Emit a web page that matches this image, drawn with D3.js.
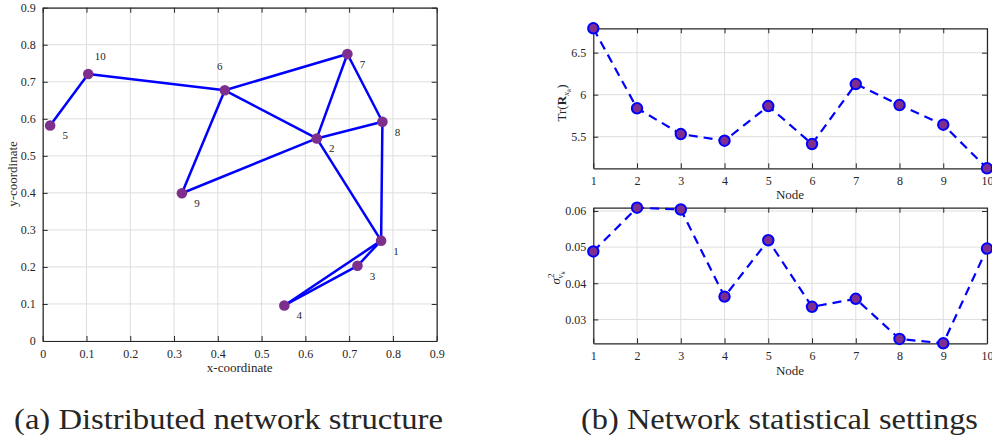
<!DOCTYPE html>
<html><head><meta charset="utf-8">
<script src="https://cdn.jsdelivr.net/npm/d3@7"></script>
<style>
body{margin:0;background:#fff;}
text{font-family:"Liberation Serif","DejaVu Serif",serif;fill:#262626;}
</style></head><body>
<svg id="c" width="992" height="439"></svg>
<script>
// ---- Data ----
const nodeIds = [1,2,3,4,5,6,7,8,9,10];
const nodeX = [0.773,0.626,0.719,0.552,0.017,0.416,0.696,0.776,0.318,0.104];
const nodeY = [0.271,0.547,0.203,0.096,0.582,0.677,0.775,0.592,0.399,0.721];
const edges = [[5,10],[10,6],[6,7],[6,9],[6,2],[7,2],[7,8],[2,8],[2,9],[2,1],[8,1],[1,3],[1,4],[3,4]];
const coordTicks = [0,0.1,0.2,0.3,0.4,0.5,0.6,0.7,0.8,0.9];
const traceVals = [6.79,5.838,5.532,5.452,5.865,5.413,6.127,5.877,5.643,5.124];
const traceTicks = [5.5,6,6.5];
const sigmaVals = [0.0488,0.0609,0.0604,0.0363,0.0519,0.0335,0.0357,0.0246,0.0234,0.0496];
const sigmaTicks = [0.03,0.04,0.05,0.06];
const captions = ["(a) Distributed network structure","(b) Network statistical settings"];

const svg = d3.select("#c");
const purple = "#7E2F8E", blue = "#0000FF", axisC = "#262626", gridC = "#dedede";

function frame(g, x, y, xt, yt, xfmt, yfmt, opts){
  const [x0,x1] = x.range(), [y0,y1] = y.range();
  g.append("g").selectAll("line").data(xt).join("line")
    .attr("x1",d=>x(d)).attr("x2",d=>x(d)).attr("y1",y0).attr("y2",y1)
    .attr("stroke",gridC).attr("stroke-width",1);
  g.append("g").selectAll("line").data(yt).join("line")
    .attr("y1",d=>y(d)).attr("y2",d=>y(d)).attr("x1",x0).attr("x2",x1)
    .attr("stroke",gridC).attr("stroke-width",1);
  const ax = g.append("g").attr("transform",`translate(0,${y0})`)
    .call(d3.axisBottom(x).tickValues(xt).tickFormat(xfmt).tickSizeInner(-5).tickSizeOuter(0).tickPadding(8));
  const axt = g.append("g").attr("transform",`translate(0,${y1})`)
    .call(d3.axisTop(x).tickValues(xt).tickFormat("").tickSizeInner(-5).tickSizeOuter(0));
  const ay = g.append("g").attr("transform",`translate(${x0},0)`)
    .call(d3.axisLeft(y).tickValues(yt).tickFormat(yfmt).tickSizeInner(-5).tickSizeOuter(0).tickPadding(7));
  const ayr = g.append("g").attr("transform",`translate(${x1},0)`)
    .call(d3.axisRight(y).tickValues(yt).tickFormat("").tickSizeInner(-5).tickSizeOuter(0));
  [ax,axt,ay,ayr].forEach(a=>{
    a.select(".domain").attr("stroke",axisC).attr("stroke-width",1.2);
    a.selectAll(".tick line").attr("stroke",axisC).attr("stroke-width",1);
    a.selectAll("text").attr("font-family","Liberation Serif, serif").attr("font-size",opts.fs).attr("fill",axisC);
  });
  return g;
}

// ---- Panel (a) ----
const xa = d3.scaleLinear().domain([0,0.9]).range([42.7,436.7]);
const ya = d3.scaleLinear().domain([0,0.9]).range([341,7.7]);
const ga = svg.append("g");
const fmt1 = d=> d===0?"0":d3.format(".1f")(d);
frame(ga, xa, ya, coordTicks, coordTicks, fmt1, fmt1, {fs:12});
const nodes = nodeIds.map((id,i)=>({id, x:nodeX[i], y:nodeY[i]}));
const byId = new Map(nodes.map(n=>[n.id,n]));
ga.append("g").selectAll("line").data(edges).join("line")
  .attr("x1",d=>xa(byId.get(d[0]).x)).attr("y1",d=>ya(byId.get(d[0]).y))
  .attr("x2",d=>xa(byId.get(d[1]).x)).attr("y2",d=>ya(byId.get(d[1]).y))
  .attr("stroke",blue).attr("stroke-width",2.5);
ga.append("g").selectAll("circle").data(nodes).join("circle")
  .attr("cx",d=>xa(d.x)).attr("cy",d=>ya(d.y)).attr("r",5.3).attr("fill",purple);
const labOff = {6:[-5,-20],10:[12,-14]};
ga.append("g").selectAll("text").data(nodes).join("text")
  .attr("x",d=>xa(d.x)+(labOff[d.id]?labOff[d.id][0]:15))
  .attr("y",d=>ya(d.y)+(labOff[d.id]?labOff[d.id][1]:14))
  .attr("font-size",11).attr("text-anchor","middle").text(d=>d.id);
ga.append("text").attr("x",239.7).attr("y",372).attr("text-anchor","middle").attr("font-size",13).text("x-coordinate");
ga.append("text").attr("transform","translate(17,174) rotate(-90)").attr("text-anchor","middle").attr("font-size",13).text("y-coordinate");

// ---- Panel (b) ----
const xb = d3.scaleLinear().domain([1,10]).range([593.3,987]);
function linePanel(vals, yr, ticks, yfmt){
  const y = d3.scaleLinear().domain(d3.extent(vals)).range(yr);
  const g = svg.append("g");
  frame(g, xb, y, nodeIds, ticks, d=>d, yfmt, {fs:12});
  g.append("path").datum(vals)
    .attr("d", d3.line().x((d,i)=>xb(nodeIds[i])).y(d=>y(d)))
    .attr("fill","none").attr("stroke",blue).attr("stroke-width",2.2).attr("stroke-dasharray","9,6");
  g.append("g").selectAll("circle").data(vals).join("circle")
    .attr("cx",(d,i)=>xb(nodeIds[i])).attr("cy",d=>y(d)).attr("r",5.2)
    .attr("fill",purple).attr("stroke",blue).attr("stroke-width",2);
  return g;
}
linePanel(traceVals,[168.3,28.3],traceTicks,d=>d3.format("")(d));
linePanel(sigmaVals,[343.3,207.7],sigmaTicks,d=>d3.format(".2f")(d));
svg.append("text").attr("x",790).attr("y",199).attr("text-anchor","middle").attr("font-size",13).text("Node");
svg.append("text").attr("x",790).attr("y",375).attr("text-anchor","middle").attr("font-size",13).text("Node");
const t1 = svg.append("text").attr("transform","translate(566,103) rotate(-90)").attr("text-anchor","middle").attr("font-size",13);
t1.append("tspan").text("Tr(");
t1.append("tspan").attr("font-weight","bold").text("R");
t1.append("tspan").attr("font-size",9).attr("font-style","italic").attr("dy",3).text("x");
t1.append("tspan").attr("font-size",7).attr("font-style","italic").attr("dy",2).text("k");
t1.append("tspan").attr("dy",-5).text(")");
const t2 = svg.append("text").attr("transform","translate(560,278) rotate(-90)").attr("text-anchor","middle").attr("font-size",13);
t2.append("tspan").attr("font-style","italic").text("σ");
t2.append("tspan").attr("font-size",9).attr("dy",-6).text("2");
t2.append("tspan").attr("font-size",9).attr("font-style","italic").attr("dx",-5).attr("dy",9).text("v");
t2.append("tspan").attr("font-size",7).attr("font-style","italic").attr("dy",2).text("k");

// captions
svg.append("text").attr("x",228.5).attr("y",429).attr("text-anchor","middle").attr("font-size",30)
  .attr("textLength",429).attr("lengthAdjust","spacingAndGlyphs").text(captions[0]);
svg.append("text").attr("x",779.5).attr("y",429).attr("text-anchor","middle").attr("font-size",30)
  .attr("textLength",397).attr("lengthAdjust","spacingAndGlyphs").text(captions[1]);
</script></body></html>
